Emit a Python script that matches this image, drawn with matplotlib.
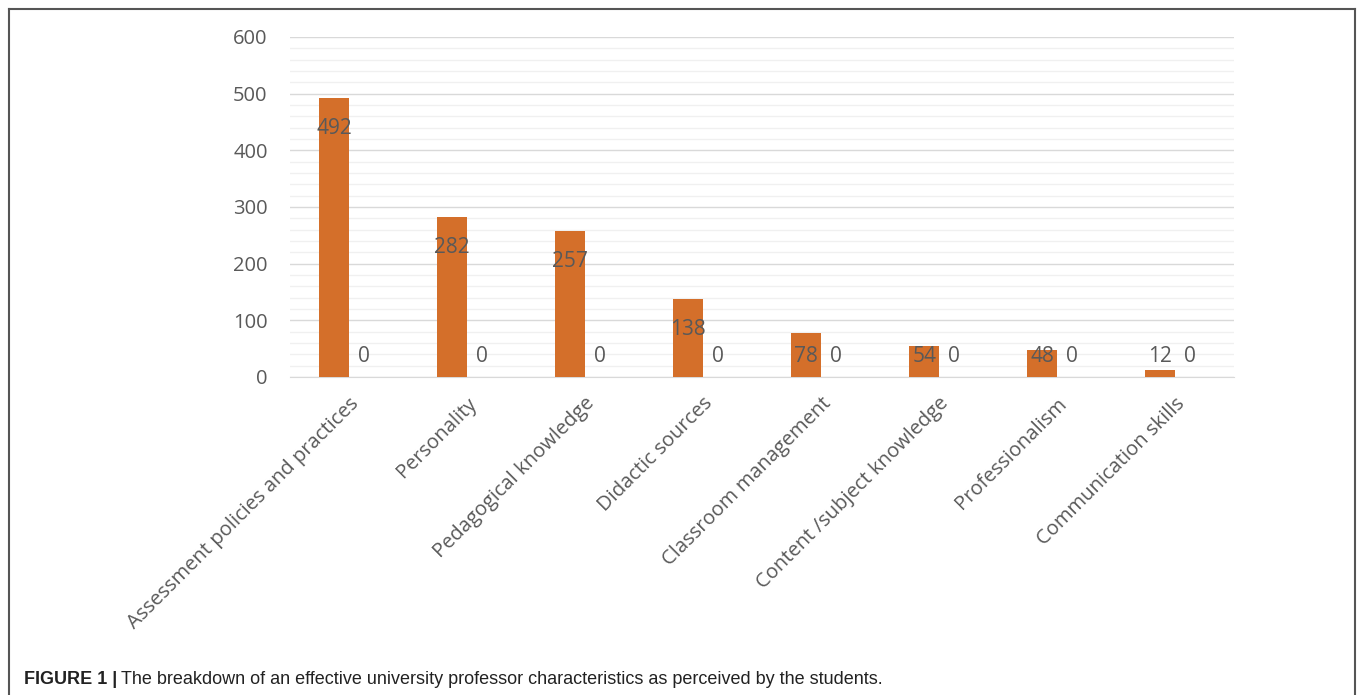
import matplotlib
matplotlib.use('Agg')
import matplotlib.pyplot as plt
import numpy as np
from matplotlib.lines import Line2D

plt.rcParams['font.family'] = 'Open Sans'

categories = ['Assessment policies and practices', 'Personality', 'Pedagogical knowledge',
              'Didactic sources', 'Classroom management', 'Content /subject knowledge',
              'Professionalism', 'Communication skills']
series1 = [492, 282, 257, 138, 78, 54, 48, 12]
series2 = [0, 0, 0, 0, 0, 0, 0, 0]

bar_color = '#D46F2A'
text_grey = '#595959'

fig = plt.figure(figsize=(13.6, 6.95), dpi=100)
ax = fig.add_axes([0.2132, 0.4576, 0.6941, 0.4892])

x = np.arange(len(categories))
w = 0.25
ax.bar(x - w / 2, series1, width=w, color=bar_color, zorder=3)
ax.bar(x + w / 2, series2, width=w, color=bar_color, zorder=3)

# data labels (inside end, kept above the zero labels)
for xi, v in zip(x, series1):
    ax.text(xi - w / 2, max(v - 54, 37), str(v), ha='center', va='center',
            fontsize=15, color=text_grey, zorder=4)
for xi, v in zip(x, series2):
    ax.text(xi + w / 2, max(v - 54, 37), str(v), ha='center', va='center',
            fontsize=15, color=text_grey, zorder=4)

ax.set_xlim(-0.5, len(categories) - 0.5)
ax.set_ylim(0, 600)
ax.set_yticks(np.arange(0, 601, 100))
ax.set_yticks(np.arange(0, 601, 20), minor=True)
ax.grid(axis='y', which='major', color='#D9D9D9', lw=1.0, zorder=0)
ax.grid(axis='y', which='minor', color='#F0F0F0', lw=1.0, zorder=0)
ax.tick_params(axis='y', which='both', length=0, labelsize=14.5, labelcolor=text_grey, pad=16)
ax.tick_params(axis='x', length=0, labelsize=14.5, labelcolor=text_grey, pad=12)
ax.set_xticks(x)
ax.set_xticklabels(categories, rotation=45, ha='right', rotation_mode='anchor')
for s in ['top', 'right', 'left']:
    ax.spines[s].set_visible(False)
ax.spines['bottom'].set_color('#D9D9D9')

# frame around the figure (no bottom edge)
for xs, ys in [([8.5 / 1360, 8.5 / 1360], [0, 1 - 9 / 695]),
               ([8.5 / 1360, 1355 / 1360], [1 - 9 / 695, 1 - 9 / 695]),
               ([1355 / 1360, 1355 / 1360], [0, 1 - 9 / 695])]:
    fig.add_artist(Line2D(xs, ys, transform=fig.transFigure, color='#555555', lw=1.5))

# caption
cy = 1 - 679 / 695
t1 = fig.text(24 / 1360, cy, 'FIGURE 1 |', fontsize=13, fontweight='bold',
              family='Liberation Sans', color='#222222', va='center')
r = fig.canvas.get_renderer()
bb = t1.get_window_extent(renderer=r)
fig.text(bb.x1 / 1360 + 4 / 1360, cy,
         'The breakdown of an effective university professor characteristics as perceived by the students.',
         fontsize=13, family='Liberation Sans', color='#222222', va='center')

fig.savefig('out.png', dpi=100, facecolor='white')
